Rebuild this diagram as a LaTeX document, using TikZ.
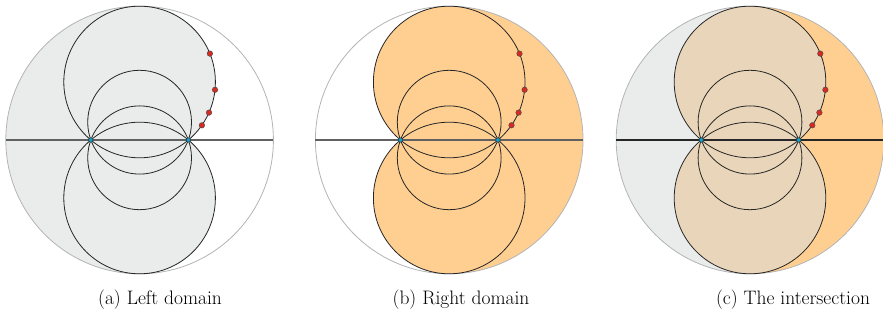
\documentclass[tikz,border=0pt]{standalone}
\definecolor{domgray}{RGB}{234,235,235}
\definecolor{domorange}{RGB}{255,207,145}
\definecolor{domtan}{RGB}{233,213,186}
\definecolor{rimgray}{RGB}{180,180,180}
\definecolor{dotred}{RGB}{220,40,30}
\definecolor{dotblue}{RGB}{20,160,200}
\tikzset{
  rim/.style={draw=rimgray, line width=0.8pt},
  arcline/.style={draw=black!85, line width=0.8pt},
  reddot/.style={circle, fill=dotred, draw=black!70, line width=0.5pt, inner sep=0pt, minimum size=5.5pt},
  bluedot/.style={circle, fill=dotblue, draw=black!80, line width=0.5pt, inner sep=0pt, minimum size=4.5pt},
  captext/.style={font=\fontsize{19.5}{22}\selectfont, anchor=center, inner sep=0pt}
}
% #1 name prefix, #2 x centre, #3 left fill, #4 right fill, #5 lens fill, #6 axis colour
\newcommand\dompanel[6]{%
  \begin{scope}[shift={(#2pt,180pt)}]
    \fill[#3] (0pt,133.8pt) arc[start angle=90,end angle=270,radius=133.8pt] -- cycle;
    \fill[#4] (0pt,133.8pt) arc[start angle=90,end angle=-90,radius=133.8pt] -- cycle;
    \fill[#5] (0pt,58pt) circle[radius=75.8pt];
    \fill[#5] (0pt,-58pt) circle[radius=75.8pt];
    \draw[rim] (0pt,0pt) circle[radius=133.8pt];
    \coordinate (#1L) at (-133.8pt,0pt);
    \coordinate (#1R) at (133.8pt,0pt);
    \draw[draw=#6, line width=1.2pt] (#1L) -- (#1R);
    \draw[arcline] (0pt,58pt) circle[radius=75.8pt];
    \draw[arcline] (0pt,-58pt) circle[radius=75.8pt];
    \draw[arcline] (0pt,17.8pt) circle[radius=51.9pt];
    \draw[arcline] (0pt,-17.8pt) circle[radius=51.9pt];
    \node[bluedot] (#1P) at (-48.8pt,0pt) {};
    \node[bluedot] (#1Q) at (48.8pt,0pt) {};
    \node[reddot] (#1r1) at (70.3pt,86.4pt) {};
    \node[reddot] (#1r2) at (75.4pt,50.2pt) {};
    \node[reddot] (#1r3) at (69.4pt,27.4pt) {};
    \node[reddot] (#1r4) at (62.3pt,14.7pt) {};
  \end{scope}}
\begin{document}
\begin{tikzpicture}
  \useasboundingbox (0pt,0pt) rectangle (883pt,320pt);
  \dompanel{a}{139.6}{domgray}{white}{domgray}{black!62}
  \dompanel{b}{449.2}{white}{domorange}{domorange}{black!62}
  \dompanel{c}{750}{domgray}{domorange}{domtan}{black!85}
  \node[captext] (capa) at (160pt,20pt) {(a)\ Left domain};
  \node[captext] (capb) at (461pt,20pt) {(b)\ Right domain};
  \node[captext] (capc) at (793pt,20pt) {(c)\ The intersection};
\end{tikzpicture}
\end{document}
